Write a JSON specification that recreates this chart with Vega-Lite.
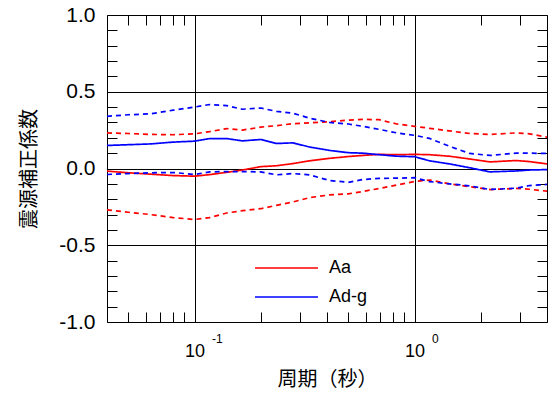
{
  "$schema": "https://vega.github.io/schema/vega-lite/v6.json",
  "width": 440,
  "height": 307,
  "autosize": "none",
  "padding": {"left": 107, "top": 15, "right": 10, "bottom": 72},
  "background": "white",
  "config": {
    "view": {"stroke": "black", "strokeWidth": 1},
    "axis": {"labelFont": "Liberation Sans", "labelColor": "black", "tickColor": "black", "tickWidth": 1, "gridColor": "black", "gridOpacity": 1, "gridWidth": 1, "labelOverlap": false, "labelBound": false, "labelFlush": false}
  },
  "data": {"values": [
    {"T":0.04,"v":-0.017,"g":"Aa","s":"mean"},{"T":0.05,"v":-0.028,"g":"Aa","s":"mean"},{"T":0.063,"v":-0.037,"g":"Aa","s":"mean"},{"T":0.08,"v":-0.046,"g":"Aa","s":"mean"},{"T":0.1,"v":-0.05,"g":"Aa","s":"mean"},{"T":0.117,"v":-0.04,"g":"Aa","s":"mean"},{"T":0.14,"v":-0.025,"g":"Aa","s":"mean"},{"T":0.165,"v":-0.01,"g":"Aa","s":"mean"},{"T":0.2,"v":0.012,"g":"Aa","s":"mean"},{"T":0.236,"v":0.018,"g":"Aa","s":"mean"},{"T":0.28,"v":0.032,"g":"Aa","s":"mean"},{"T":0.333,"v":0.05,"g":"Aa","s":"mean"},{"T":0.41,"v":0.066,"g":"Aa","s":"mean"},{"T":0.5,"v":0.078,"g":"Aa","s":"mean"},{"T":0.58,"v":0.085,"g":"Aa","s":"mean"},{"T":0.69,"v":0.092,"g":"Aa","s":"mean"},{"T":0.83,"v":0.09,"g":"Aa","s":"mean"},{"T":1.0,"v":0.092,"g":"Aa","s":"mean"},{"T":1.17,"v":0.09,"g":"Aa","s":"mean"},{"T":1.44,"v":0.08,"g":"Aa","s":"mean"},{"T":1.78,"v":0.062,"g":"Aa","s":"mean"},{"T":2.2,"v":0.043,"g":"Aa","s":"mean"},{"T":2.9,"v":0.052,"g":"Aa","s":"mean"},{"T":3.33,"v":0.045,"g":"Aa","s":"mean"},{"T":4.0,"v":0.03,"g":"Aa","s":"mean"},
    {"T":0.04,"v":0.15,"g":"Ad-g","s":"mean"},{"T":0.05,"v":0.155,"g":"Ad-g","s":"mean"},{"T":0.063,"v":0.16,"g":"Ad-g","s":"mean"},{"T":0.08,"v":0.172,"g":"Ad-g","s":"mean"},{"T":0.1,"v":0.178,"g":"Ad-g","s":"mean"},{"T":0.117,"v":0.195,"g":"Ad-g","s":"mean"},{"T":0.14,"v":0.195,"g":"Ad-g","s":"mean"},{"T":0.165,"v":0.18,"g":"Ad-g","s":"mean"},{"T":0.2,"v":0.189,"g":"Ad-g","s":"mean"},{"T":0.236,"v":0.163,"g":"Ad-g","s":"mean"},{"T":0.28,"v":0.167,"g":"Ad-g","s":"mean"},{"T":0.333,"v":0.14,"g":"Ad-g","s":"mean"},{"T":0.41,"v":0.118,"g":"Ad-g","s":"mean"},{"T":0.5,"v":0.103,"g":"Ad-g","s":"mean"},{"T":0.58,"v":0.1,"g":"Ad-g","s":"mean"},{"T":0.69,"v":0.09,"g":"Ad-g","s":"mean"},{"T":0.83,"v":0.08,"g":"Ad-g","s":"mean"},{"T":1.0,"v":0.077,"g":"Ad-g","s":"mean"},{"T":1.17,"v":0.05,"g":"Ad-g","s":"mean"},{"T":1.44,"v":0.03,"g":"Ad-g","s":"mean"},{"T":1.78,"v":0.005,"g":"Ad-g","s":"mean"},{"T":2.2,"v":-0.022,"g":"Ad-g","s":"mean"},{"T":2.9,"v":-0.016,"g":"Ad-g","s":"mean"},{"T":3.33,"v":-0.01,"g":"Ad-g","s":"mean"},{"T":4.0,"v":-0.007,"g":"Ad-g","s":"mean"},
    {"T":0.04,"v":0.232,"g":"Aa","s":"upper"},{"T":0.05,"v":0.228,"g":"Aa","s":"upper"},{"T":0.063,"v":0.222,"g":"Aa","s":"upper"},{"T":0.08,"v":0.22,"g":"Aa","s":"upper"},{"T":0.1,"v":0.226,"g":"Aa","s":"upper"},{"T":0.117,"v":0.24,"g":"Aa","s":"upper"},{"T":0.14,"v":0.26,"g":"Aa","s":"upper"},{"T":0.165,"v":0.25,"g":"Aa","s":"upper"},{"T":0.2,"v":0.27,"g":"Aa","s":"upper"},{"T":0.236,"v":0.279,"g":"Aa","s":"upper"},{"T":0.28,"v":0.292,"g":"Aa","s":"upper"},{"T":0.333,"v":0.298,"g":"Aa","s":"upper"},{"T":0.41,"v":0.305,"g":"Aa","s":"upper"},{"T":0.5,"v":0.315,"g":"Aa","s":"upper"},{"T":0.58,"v":0.32,"g":"Aa","s":"upper"},{"T":0.69,"v":0.318,"g":"Aa","s":"upper"},{"T":0.83,"v":0.29,"g":"Aa","s":"upper"},{"T":1.0,"v":0.275,"g":"Aa","s":"upper"},{"T":1.17,"v":0.262,"g":"Aa","s":"upper"},{"T":1.44,"v":0.245,"g":"Aa","s":"upper"},{"T":1.78,"v":0.228,"g":"Aa","s":"upper"},{"T":2.2,"v":0.222,"g":"Aa","s":"upper"},{"T":2.9,"v":0.232,"g":"Aa","s":"upper"},{"T":3.33,"v":0.226,"g":"Aa","s":"upper"},{"T":4.0,"v":0.204,"g":"Aa","s":"upper"},
    {"T":0.04,"v":0.34,"g":"Ad-g","s":"upper"},{"T":0.05,"v":0.35,"g":"Ad-g","s":"upper"},{"T":0.063,"v":0.356,"g":"Ad-g","s":"upper"},{"T":0.08,"v":0.38,"g":"Ad-g","s":"upper"},{"T":0.1,"v":0.4,"g":"Ad-g","s":"upper"},{"T":0.117,"v":0.417,"g":"Ad-g","s":"upper"},{"T":0.14,"v":0.41,"g":"Ad-g","s":"upper"},{"T":0.165,"v":0.386,"g":"Ad-g","s":"upper"},{"T":0.2,"v":0.394,"g":"Ad-g","s":"upper"},{"T":0.236,"v":0.372,"g":"Ad-g","s":"upper"},{"T":0.28,"v":0.36,"g":"Ad-g","s":"upper"},{"T":0.333,"v":0.328,"g":"Ad-g","s":"upper"},{"T":0.41,"v":0.3,"g":"Ad-g","s":"upper"},{"T":0.5,"v":0.29,"g":"Ad-g","s":"upper"},{"T":0.58,"v":0.275,"g":"Ad-g","s":"upper"},{"T":0.69,"v":0.255,"g":"Ad-g","s":"upper"},{"T":0.83,"v":0.232,"g":"Ad-g","s":"upper"},{"T":1.0,"v":0.216,"g":"Ad-g","s":"upper"},{"T":1.17,"v":0.196,"g":"Ad-g","s":"upper"},{"T":1.44,"v":0.145,"g":"Ad-g","s":"upper"},{"T":1.78,"v":0.098,"g":"Ad-g","s":"upper"},{"T":2.2,"v":0.085,"g":"Ad-g","s":"upper"},{"T":2.9,"v":0.1,"g":"Ad-g","s":"upper"},{"T":3.33,"v":0.1,"g":"Ad-g","s":"upper"},{"T":4.0,"v":0.098,"g":"Ad-g","s":"upper"},
    {"T":0.04,"v":-0.269,"g":"Aa","s":"lower"},{"T":0.05,"v":-0.285,"g":"Aa","s":"lower"},{"T":0.063,"v":-0.3,"g":"Aa","s":"lower"},{"T":0.08,"v":-0.32,"g":"Aa","s":"lower"},{"T":0.1,"v":-0.332,"g":"Aa","s":"lower"},{"T":0.117,"v":-0.32,"g":"Aa","s":"lower"},{"T":0.14,"v":-0.29,"g":"Aa","s":"lower"},{"T":0.165,"v":-0.275,"g":"Aa","s":"lower"},{"T":0.2,"v":-0.262,"g":"Aa","s":"lower"},{"T":0.236,"v":-0.24,"g":"Aa","s":"lower"},{"T":0.28,"v":-0.218,"g":"Aa","s":"lower"},{"T":0.333,"v":-0.19,"g":"Aa","s":"lower"},{"T":0.41,"v":-0.172,"g":"Aa","s":"lower"},{"T":0.5,"v":-0.165,"g":"Aa","s":"lower"},{"T":0.58,"v":-0.15,"g":"Aa","s":"lower"},{"T":0.69,"v":-0.13,"g":"Aa","s":"lower"},{"T":0.83,"v":-0.108,"g":"Aa","s":"lower"},{"T":1.0,"v":-0.085,"g":"Aa","s":"lower"},{"T":1.17,"v":-0.075,"g":"Aa","s":"lower"},{"T":1.44,"v":-0.1,"g":"Aa","s":"lower"},{"T":1.78,"v":-0.118,"g":"Aa","s":"lower"},{"T":2.2,"v":-0.137,"g":"Aa","s":"lower"},{"T":2.9,"v":-0.13,"g":"Aa","s":"lower"},{"T":3.33,"v":-0.135,"g":"Aa","s":"lower"},{"T":4.0,"v":-0.148,"g":"Aa","s":"lower"},
    {"T":0.04,"v":-0.039,"g":"Ad-g","s":"lower"},{"T":0.05,"v":-0.033,"g":"Ad-g","s":"lower"},{"T":0.063,"v":-0.028,"g":"Ad-g","s":"lower"},{"T":0.08,"v":-0.026,"g":"Ad-g","s":"lower"},{"T":0.1,"v":-0.039,"g":"Ad-g","s":"lower"},{"T":0.117,"v":-0.022,"g":"Ad-g","s":"lower"},{"T":0.14,"v":-0.02,"g":"Ad-g","s":"lower"},{"T":0.165,"v":-0.02,"g":"Ad-g","s":"lower"},{"T":0.2,"v":-0.022,"g":"Ad-g","s":"lower"},{"T":0.236,"v":-0.041,"g":"Ad-g","s":"lower"},{"T":0.28,"v":-0.033,"g":"Ad-g","s":"lower"},{"T":0.333,"v":-0.041,"g":"Ad-g","s":"lower"},{"T":0.41,"v":-0.078,"g":"Ad-g","s":"lower"},{"T":0.5,"v":-0.09,"g":"Ad-g","s":"lower"},{"T":0.58,"v":-0.072,"g":"Ad-g","s":"lower"},{"T":0.69,"v":-0.064,"g":"Ad-g","s":"lower"},{"T":0.83,"v":-0.063,"g":"Ad-g","s":"lower"},{"T":1.0,"v":-0.06,"g":"Ad-g","s":"lower"},{"T":1.17,"v":-0.085,"g":"Ad-g","s":"lower"},{"T":1.44,"v":-0.1,"g":"Ad-g","s":"lower"},{"T":1.78,"v":-0.113,"g":"Ad-g","s":"lower"},{"T":2.2,"v":-0.137,"g":"Ad-g","s":"lower"},{"T":2.9,"v":-0.128,"g":"Ad-g","s":"lower"},{"T":3.33,"v":-0.111,"g":"Ad-g","s":"lower"},{"T":4.0,"v":-0.104,"g":"Ad-g","s":"lower"}
  ]},
  "resolve": {"axis": {"x": "independent", "y": "independent"}},
  "layer": [
    {
      "mark": {"type": "line", "strokeWidth": 1.7, "clip": true},
      "encoding": {
        "x": {"field": "T", "type": "quantitative", "scale": {"type": "log", "domain": [0.04, 4], "nice": false},
          "axis": {"orient": "bottom", "values": [0.1, 1], "labelExpr": "'10'", "ticks": false, "domain": false, "grid": true, "labelFontSize": 18, "labelBaseline": "alphabetic", "labelPadding": 34,
            "title": "周期（秒）", "titleFont": "Noto Sans CJK JP", "titleFontSize": 20, "titleFontWeight": "normal", "titleColor": "black", "titleX": 220, "titleY": 63, "titleBaseline": "alphabetic", "titleAlign": "center"}},
        "y": {"field": "v", "type": "quantitative", "scale": {"domain": [-1, 1], "nice": false, "zero": false},
          "axis": {"orient": "left", "values": [-1, -0.5, 0, 0.5, 1], "labelExpr": "datum.value < 0 ? '-' + format(-datum.value, '.1f') : format(datum.value, '.1f')", "ticks": false, "domain": false, "grid": true, "labelFontSize": 21, "labelPadding": 12,
            "title": "震源補正係数", "titleFont": "Noto Sans CJK JP", "titleFontSize": 20, "titleFontWeight": "normal", "titleColor": "black", "titleX": -72, "titleY": 153.5, "titleBaseline": "alphabetic", "titleAlign": "center", "titleAngle": -90}},
        "color": {"field": "g", "type": "nominal", "scale": {"domain": ["Aa", "Ad-g"], "range": ["#ff0000", "#0000ff"]},
          "legend": {"title": null, "orient": "none", "legendX": 147, "legendY": 244, "direction": "vertical", "symbolType": "stroke", "symbolSize": 3969, "symbolStrokeWidth": 1.6, "labelFontSize": 18, "labelFont": "Liberation Sans", "labelColor": "black", "labelOffset": 10, "padding": 0, "rowPadding": 11, "clipHeight": 18}},
        "strokeDash": {"field": "s", "type": "nominal", "scale": {"domain": ["mean", "upper", "lower"], "range": [[1, 0], [5, 4], [5, 4]]}, "legend": null},
        "detail": {"field": "s"}
      }
    },
    {
      "mark": {"type": "line", "opacity": 0},
      "encoding": {
        "x": {"field": "T", "type": "quantitative", "scale": {"type": "log", "domain": [0.04, 4], "nice": false},
          "axis": {"orient": "bottom", "values": [0.05, 0.06, 0.07, 0.08, 0.09, 0.1, 0.2, 0.3, 0.4, 0.5, 0.6, 0.7, 0.8, 0.9, 1, 2, 3], "tickSize": -10, "labelExpr": "datum.value == 0.1 ? '-1' : (datum.value == 1 ? '0' : '')", "labelAlign": "left", "labelOffset": 17, "labelFontSize": 12, "labelBaseline": "alphabetic", "labelPadding": 30, "domain": false, "grid": false, "title": null}},
        "y": {"field": "v", "type": "quantitative", "scale": {"domain": [-1, 1], "nice": false, "zero": false},
          "axis": {"orient": "left", "values": [-0.9, -0.8, -0.7, -0.6, -0.4, -0.3, -0.2, -0.1, 0.1, 0.2, 0.3, 0.4, 0.6, 0.7, 0.8, 0.9], "tickSize": -10, "labels": false, "domain": false, "grid": false, "title": null}}
      }
    },
    {
      "mark": {"type": "line", "opacity": 0},
      "encoding": {
        "x": {"field": "T", "type": "quantitative", "scale": {"type": "log", "domain": [0.04, 4], "nice": false},
          "axis": {"orient": "top", "values": [0.05, 0.06, 0.07, 0.08, 0.09, 0.2, 0.3, 0.4, 0.5, 0.6, 0.7, 0.8, 0.9, 2, 3], "tickSize": -10, "labels": false, "domain": false, "grid": false, "title": null}},
        "y": {"field": "v", "type": "quantitative", "scale": {"domain": [-1, 1], "nice": false, "zero": false},
          "axis": {"orient": "right", "values": [-0.9, -0.8, -0.7, -0.6, -0.4, -0.3, -0.2, -0.1, 0.1, 0.2, 0.3, 0.4, 0.6, 0.7, 0.8, 0.9], "tickSize": -10, "labels": false, "domain": false, "grid": false, "title": null}}
      }
    }
  ]
}
